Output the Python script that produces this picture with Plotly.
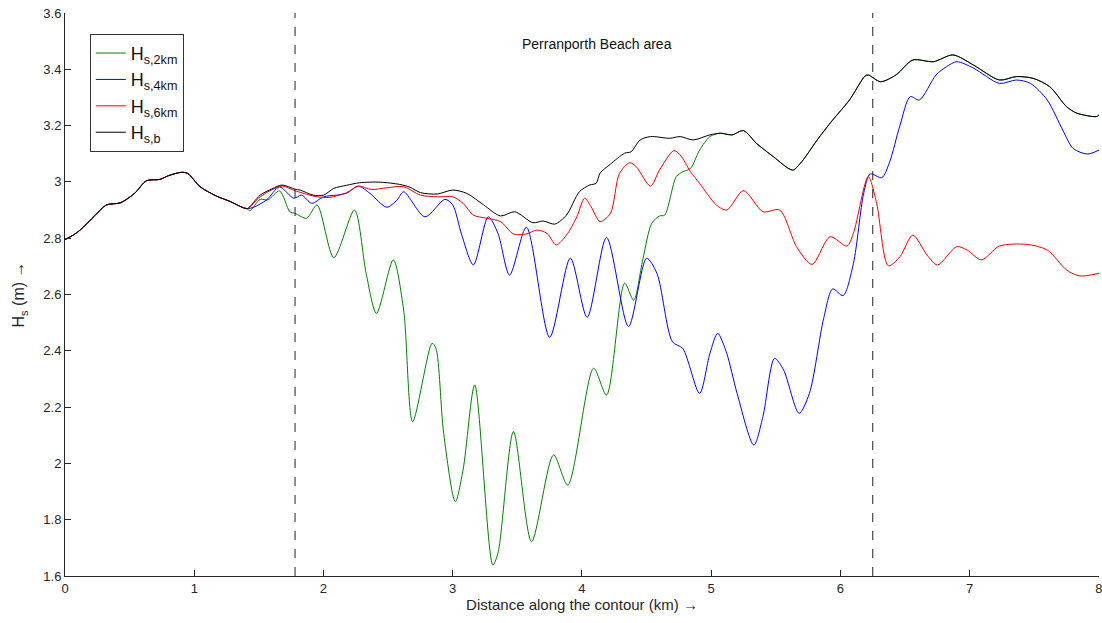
import plotly.graph_objects as go

# ---- data (km, m) ----
common_x = [0, 0.06, 0.12, 0.23, 0.32, 0.43, 0.54, 0.63, 0.735, 0.80, 0.90, 0.95, 1.045, 1.17, 1.28, 1.37, 1.41]
common_y = [2.795, 2.81, 2.83, 2.88, 2.918, 2.926, 2.96, 3.004, 3.009, 3.022, 3.034, 3.030, 2.983, 2.95, 2.93, 2.91, 2.905]

green_x = [1.43, 1.51, 1.57, 1.66, 1.74, 1.78, 1.87, 1.95, 2.08, 2.24, 2.33, 2.41, 2.54, 2.62, 2.69,
           2.84, 2.87, 2.93, 3.02, 3.08, 3.17, 3.31, 3.35, 3.47, 3.61, 3.78, 3.89, 4.09, 4.19, 4.33,
           4.40, 4.47, 4.54, 4.60, 4.64, 4.73, 4.78, 4.84, 4.91, 4.99, 5.07]
green_y = [2.897, 2.938, 2.936, 2.968, 2.894, 2.888, 2.871, 2.918, 2.731, 2.900, 2.675, 2.533, 2.723, 2.545, 2.148,
           2.427, 2.409, 2.107, 1.864, 1.977, 2.279, 1.639, 1.681, 2.113, 1.722, 2.030, 1.923, 2.338, 2.243, 2.640,
           2.580, 2.723, 2.853, 2.879, 2.882, 3.019, 3.036, 3.048, 3.113, 3.161, 3.173]

blue_x = [1.46, 1.56, 1.66, 1.77, 1.83, 1.91, 2.00, 2.10, 2.18, 2.27, 2.36, 2.49, 2.57, 2.62, 2.785, 2.94,
          3.00, 3.07, 3.16, 3.275, 3.35, 3.44, 3.57, 3.75, 3.91, 4.04, 4.19, 4.36, 4.50, 4.58, 4.70, 4.78,
          4.91, 4.99, 5.05, 5.12, 5.20, 5.33, 5.40, 5.49, 5.56, 5.68, 5.76, 5.87, 5.94, 6.02, 6.10, 6.18,
          6.23, 6.32, 6.38, 6.46, 6.54, 6.61, 6.74, 6.82, 6.90, 7.03, 7.23, 7.36, 7.47, 7.60, 7.72, 7.80,
          7.91, 8.0]
blue_y = [2.910, 2.936, 2.982, 2.942, 2.953, 2.924, 2.947, 2.953, 2.960, 2.985, 2.959, 2.910, 2.936, 2.965, 2.876, 2.938,
          2.918, 2.811, 2.705, 2.876, 2.817, 2.669, 2.839, 2.448, 2.729, 2.519, 2.803, 2.486, 2.729, 2.675, 2.432, 2.408,
          2.249, 2.391, 2.462, 2.391, 2.249, 2.065, 2.166, 2.373, 2.332, 2.178, 2.249, 2.515, 2.620, 2.596, 2.710, 2.960,
          3.028, 3.015, 3.070, 3.200, 3.303, 3.291, 3.380, 3.409, 3.427, 3.404, 3.350, 3.362, 3.350, 3.291, 3.184, 3.119,
          3.099, 3.113]

red_x = [1.51, 1.60, 1.68, 1.79, 1.95, 2.05, 2.18, 2.27, 2.37, 2.49, 2.62, 2.75, 2.88, 3.00, 3.08, 3.16,
         3.26, 3.37, 3.47, 3.57, 3.65, 3.73, 3.80, 3.88, 3.96, 4.02, 4.07, 4.14, 4.22, 4.29, 4.37, 4.42,
         4.53, 4.60, 4.71, 4.76, 4.84, 4.91, 5.04, 5.12, 5.25, 5.40, 5.53, 5.66, 5.78, 5.92, 6.05, 6.10,
         6.215, 6.28, 6.37, 6.46, 6.56, 6.67, 6.75, 6.90, 6.98, 7.09, 7.23, 7.44, 7.60, 7.75, 7.85, 8.0]
red_y = [2.947, 2.972, 2.985, 2.967, 2.947, 2.945, 2.962, 2.985, 2.973, 2.979, 2.983, 2.953, 2.947, 2.947, 2.924, 2.882,
         2.871, 2.859, 2.815, 2.815, 2.829, 2.817, 2.776, 2.811, 2.876, 2.942, 2.912, 2.859, 2.888, 3.030, 3.068, 3.054,
         2.985, 3.042, 3.111, 3.096, 3.036, 2.995, 2.918, 2.900, 2.969, 2.894, 2.900, 2.770, 2.707, 2.805, 2.772, 2.817,
         3.019, 2.924, 2.702, 2.734, 2.811, 2.740, 2.705, 2.770, 2.758, 2.723, 2.772, 2.778, 2.758, 2.687, 2.666, 2.675]

black_x = [1.51, 1.60, 1.68, 1.78, 1.82, 1.92, 2.00, 2.08, 2.18, 2.28, 2.44, 2.59, 2.67, 2.75, 2.88, 3.00,
           3.11, 3.24, 3.37, 3.48, 3.62, 3.70, 3.79, 3.88, 3.98, 4.06, 4.11, 4.14, 4.22, 4.33, 4.38, 4.45,
           4.53, 4.68, 4.76, 4.86, 4.99, 5.07, 5.16, 5.25, 5.35, 5.48, 5.63, 5.69, 5.74, 5.82, 5.94, 6.07,
           6.19, 6.215, 6.31, 6.43, 6.56, 6.72, 6.87, 7.03, 7.23, 7.36, 7.49, 7.62, 7.75, 7.83, 7.98, 8.0]
black_y = [2.953, 2.975, 2.989, 2.974, 2.971, 2.953, 2.953, 2.977, 2.988, 2.997, 2.999, 2.991, 2.981, 2.962, 2.957, 2.971,
           2.959, 2.918, 2.879, 2.894, 2.855, 2.861, 2.850, 2.882, 2.965, 2.989, 2.995, 3.031, 3.063, 3.102, 3.107, 3.149,
           3.161, 3.155, 3.161, 3.149, 3.167, 3.173, 3.167, 3.182, 3.137, 3.090, 3.042, 3.066, 3.096, 3.149, 3.220, 3.291,
           3.376, 3.380, 3.356, 3.380, 3.433, 3.427, 3.451, 3.415, 3.362, 3.374, 3.368, 3.338, 3.267, 3.244, 3.232, 3.238]

region_bounds = [1.78, 6.25]
region_label = "Perranporth Beach area"
x_ticks = [0, 1, 2, 3, 4, 5, 6, 7, 8]
y_ticks = [1.6, 1.8, 2.0, 2.2, 2.4, 2.6, 2.8, 3.0, 3.2, 3.4, 3.6]
y_ticktext = ["1.6", "1.8", "2", "2.2", "2.4", "2.6", "2.8", "3", "3.2", "3.4", "3.6"]

# green continues underneath the black curve after it merges
g_tail_x = [x for x in black_x if x > green_x[-1]]
g_tail_y = [y for x, y in zip(black_x, black_y) if x > green_x[-1]]

FONT = "Liberation Sans, Arial, sans-serif"
fig = go.Figure()
series = [
    ("H<sub>s,2km</sub>", common_x + green_x + g_tail_x, common_y + green_y + g_tail_y, "#008000"),
    ("H<sub>s,4km</sub>", common_x + blue_x, common_y + blue_y, "#0000FF"),
    ("H<sub>s,6km</sub>", common_x + red_x, common_y + red_y, "#FF0000"),
    ("H<sub>s,b</sub>", common_x + black_x, common_y + black_y, "#000000"),
]
for name, xs, ys, col in series:
    fig.add_trace(go.Scatter(x=xs, y=ys, name=name, mode="lines",
                             line=dict(color=col, width=1, shape="spline", smoothing=0.8)))

for xb in region_bounds:
    fig.add_shape(type="line", x0=xb, x1=xb, y0=0, y1=1, yref="paper", xref="x",
                  line=dict(color="#222222", width=1, dash="dash"))

fig.add_annotation(x=sum(region_bounds) / 2 + 0.1, y=3.49, text=region_label, showarrow=False,
                   font=dict(family=FONT, size=14, color="#111111"))

fig.update_layout(
    width=1102, height=623,
    margin=dict(l=65, r=3, t=13, b=47),
    paper_bgcolor="white", plot_bgcolor="white",
    font=dict(family=FONT, size=13, color="#262626"),
    showlegend=True,
    legend=dict(x=0.024, y=0.963, xanchor="left", yanchor="top",
                bgcolor="white", bordercolor="#333333", borderwidth=1,
                font=dict(family=FONT, size=18, color="#111111"),
                tracegroupgap=0),
)
fig.update_xaxes(range=[0, 8.0005], tickvals=x_ticks, ticks="inside", ticklen=6, tickcolor="#262626",
                 showline=True, linecolor="#262626", linewidth=1, showgrid=False, zeroline=False,
                 ticklabeloverflow="allow", automargin=False,
                 title=dict(text="Distance along the contour (km) →", font=dict(size=15), standoff=4))
fig.update_yaxes(range=[1.6, 3.6], tickvals=y_ticks, ticktext=y_ticktext, ticks="inside", ticklen=6,
                 tickcolor="#262626", showline=True, linecolor="#262626", linewidth=1,
                 showgrid=False, zeroline=False, automargin=False,
                 title=dict(text="H<sub>s</sub> (m) →", font=dict(size=16), standoff=14))

fig.write_html("out.html")
